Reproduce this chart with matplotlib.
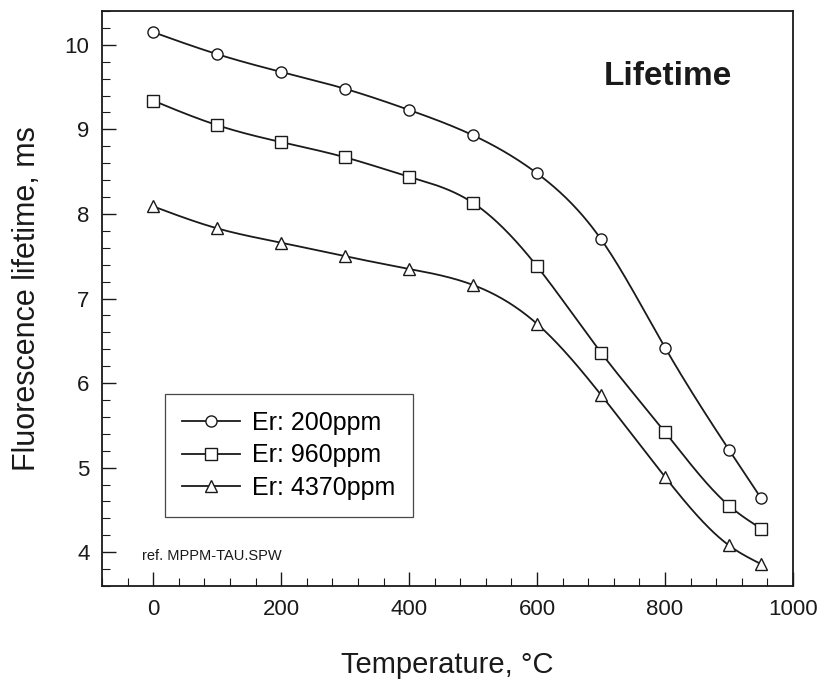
import numpy as np
import matplotlib
matplotlib.use("Agg")
import matplotlib.pyplot as plt
from matplotlib.ticker import MultipleLocator

plt.rcParams['font.family'] = ['Liberation Sans', 'DejaVu Sans']

temperature = [0, 100, 200, 300, 400, 500, 600, 700, 800, 900, 950]
er200 = [10.15, 9.89, 9.68, 9.48, 9.23, 8.93, 8.48, 7.70, 6.42, 5.21, 4.64]
er960 = [9.34, 9.05, 8.85, 8.67, 8.44, 8.13, 7.38, 6.36, 5.42, 4.55, 4.28]
er4370 = [8.09, 7.83, 7.66, 7.50, 7.35, 7.16, 6.70, 5.86, 4.89, 4.08, 3.86]
labels = ['Er: 200ppm', 'Er: 960ppm', 'Er: 4370ppm']
markers = ['o', 's', '^']
x_ticks = [0, 200, 400, 600, 800, 1000]
y_ticks = [4, 5, 6, 7, 8, 9, 10]


def natural_spline(x, y, n=400):
    x = np.asarray(x, float)
    y = np.asarray(y, float)
    k = len(x)
    h = np.diff(x)
    A = np.zeros((k, k))
    b = np.zeros(k)
    A[0, 0] = 1
    A[-1, -1] = 1
    for i in range(1, k - 1):
        A[i, i - 1] = h[i - 1]
        A[i, i] = 2 * (h[i - 1] + h[i])
        A[i, i + 1] = h[i]
        b[i] = 6 * ((y[i + 1] - y[i]) / h[i] - (y[i] - y[i - 1]) / h[i - 1])
    M = np.linalg.solve(A, b)
    xs = np.linspace(x[0], x[-1], n)
    idx = np.clip(np.searchsorted(x, xs) - 1, 0, k - 2)
    x0, x1 = x[idx], x[idx + 1]
    hh = x1 - x0
    t0 = x1 - xs
    t1 = xs - x0
    ys = (M[idx] * t0**3 + M[idx + 1] * t1**3) / (6 * hh) \
        + (y[idx] / hh - M[idx] * hh / 6) * t0 \
        + (y[idx + 1] / hh - M[idx + 1] * hh / 6) * t1
    return xs, ys


fig = plt.figure(figsize=(8.24, 6.8), dpi=100)
ax = fig.add_axes([0.1238, 0.1382, 0.9624 - 0.1238, 0.9838 - 0.1382])

col = '#1a1a1a'
handles = []
for series, lab, mk in zip([er200, er960, er4370], labels, markers):
    xs, ys = natural_spline(temperature, series)
    ax.plot(xs, ys, color=col, lw=1.3, zorder=2)
    ax.plot(temperature, series, linestyle='none', marker=mk, markersize=8,
            markerfacecolor='white', markeredgecolor=col, markeredgewidth=1.0, zorder=3)
    h, = ax.plot([], [], color=col, lw=1.3, marker=mk, markersize=8,
                 markerfacecolor='white', markeredgecolor=col, markeredgewidth=1.0)
    handles.append(h)

ax.set_xlim(-80, 1000)
ax.set_ylim(3.6, 10.4)
ax.set_xticks(x_ticks)
ax.set_yticks(y_ticks)
ax.xaxis.set_minor_locator(MultipleLocator(40))
ax.yaxis.set_minor_locator(MultipleLocator(0.2))
ax.tick_params(which='major', direction='in', length=10, width=1.0, labelsize=16, pad=9, colors=col)
ax.tick_params(which='minor', direction='in', length=6, width=0.8, colors=col)
for s in ax.spines.values():
    s.set_linewidth(1.3)
    s.set_color(col)

ax.set_xlabel('Temperature, °C', fontsize=21, labelpad=23, color=col)
ax.set_ylabel('Fluorescence lifetime, ms', fontsize=22, labelpad=16, color=col)

ax.text(805, 9.62, 'Lifetime', fontsize=24, fontweight='bold', ha='center', va='center', color=col)
ax.text(-17, 3.96, 'ref. MPPM-TAU.SPW', fontsize=10.5, ha='left', va='center', color=col)

leg = ax.legend(handles, labels, loc='lower left', bbox_to_anchor=(0.091, 0.12),
                fontsize=18, frameon=True, fancybox=False, handlelength=2.3,
                handletextpad=0.5, labelspacing=0.33, borderpad=0.7, borderaxespad=0)
leg.get_frame().set_edgecolor(col)
leg.get_frame().set_linewidth(0.9)

fig.savefig('out.png', dpi=100)
